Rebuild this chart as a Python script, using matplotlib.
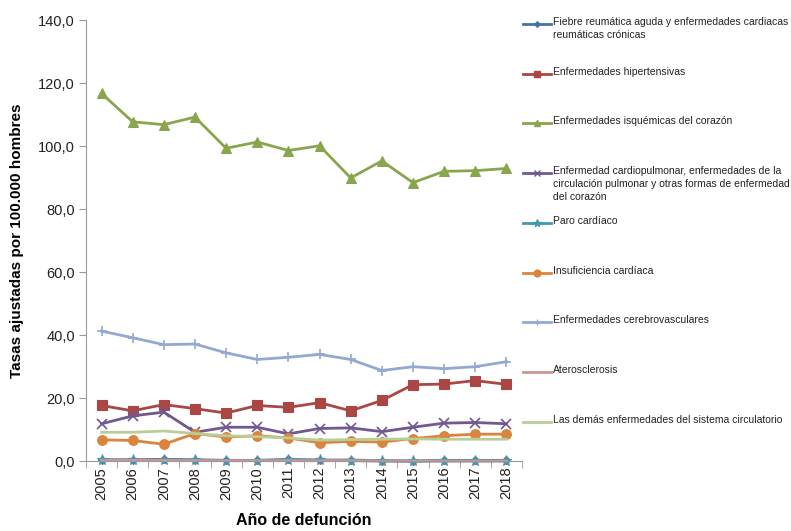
import matplotlib.pyplot as plt
from matplotlib.lines import Line2D

plt.rcParams['font.family'] = ['Liberation Sans', 'DejaVu Sans']

years = list(range(2005, 2019))

fiebre = [0.5, 0.5, 0.6, 0.5, 0.3, 0.3, 0.6, 0.4, 0.4, 0.2, 0.1, 0.3, 0.3, 0.3]
hipertensivas = [17.7, 16.0, 18.0, 16.7, 15.3, 17.7, 17.1, 18.6, 16.0, 19.3, 24.3, 24.5, 25.6, 24.4]
isquemicas = [116.7, 107.7, 106.8, 109.2, 99.3, 101.3, 98.6, 100.1, 89.9, 95.3, 88.4, 92.0, 92.2, 92.9]
cardiopulmonar = [11.9, 14.4, 15.6, 9.2, 10.8, 10.8, 8.7, 10.4, 10.6, 9.4, 10.8, 12.1, 12.3, 11.9]
paro = [0.3, 0.3, 0.3, 0.3, 0.2, 0.2, 0.4, 0.3, 0.2, 0.1, 0.0, 0.1, 0.1, 0.1]
insuficiencia = [6.8, 6.6, 5.4, 8.8, 7.7, 8.1, 7.4, 5.9, 6.3, 6.1, 7.2, 8.1, 8.6, 8.6]
cerebro = [41.3, 39.2, 37.0, 37.2, 34.4, 32.3, 33.0, 33.9, 32.3, 28.8, 30.0, 29.4, 30.0, 31.6]
aterosclerosis = [0.3, 0.3, 0.3, 0.2, 0.2, 0.2, 0.2, 0.2, 0.2, 0.1, 0.1, 0.1, 0.1, 0.1]
demas = [9.2, 9.2, 9.6, 8.8, 8.1, 7.8, 7.4, 6.7, 6.9, 7.0, 7.1, 7.0, 7.0, 7.0]

labels = [
    "Fiebre reumática aguda y enfermedades cardiacas\nreumáticas crónicas",
    "Enfermedades hipertensivas",
    "Enfermedades isquémicas del corazón",
    "Enfermedad cardiopulmonar, enfermedades de la\ncirculación pulmonar y otras formas de enfermedad\ndel corazón",
    "Paro cardíaco",
    "Insuficiencia cardíaca",
    "Enfermedades cerebrovasculares",
    "Aterosclerosis",
    "Las demás enfermedades del sistema circulatorio",
]
series = [fiebre, hipertensivas, isquemicas, cardiopulmonar, paro,
          insuficiencia, cerebro, aterosclerosis, demas]
colors = ["#4572A7", "#AA4643", "#89A54E", "#71588F", "#4198AF",
          "#DB843D", "#93A9CF", "#D19392", "#B9CD96"]
markers = ["D", "s", "^", "x", "*", "o", "+", None, None]
msizes = [4, 7, 7, 7, 8, 7, 7, 0, 0]

fig = plt.figure(figsize=(7.91, 5.31), dpi=100)
ax = fig.add_axes([0.1087, 0.1313, 0.5512, 0.831])

for vals, c, m, ms in zip(series, colors, markers, msizes):
    ax.plot(years, vals, color=c, lw=2, marker=m, markersize=ms,
            markeredgewidth=1.2 if m in ("x", "+") else 0.8, clip_on=False)

ax.set_xlim(2004.5, 2018.5)
ax.set_ylim(0, 140)
ax.set_yticks(range(0, 141, 20))
ax.set_yticklabels([f"{v},0" for v in range(0, 141, 20)], fontsize=10.5, color="#222222")
ax.set_xticks(years)
ax.set_xticklabels([str(y) for y in years], rotation=90, fontsize=10.5, color="#222222")
ax.set_xticks([y + 0.5 for y in [2004] + years], minor=True)
ax.tick_params(axis="x", which="major", length=0, pad=4)
ax.tick_params(axis="x", which="minor", length=5, color="#999999")
ax.tick_params(axis="y", length=5, color="#999999", pad=3)

for s in ["top", "right"]:
    ax.spines[s].set_visible(False)
for s in ["left", "bottom"]:
    ax.spines[s].set_color("#999999")

ax.set_ylabel("Tasas ajustadas por 100.000 hombres", fontsize=11, fontweight="bold", labelpad=10)
ax.set_xlabel("Año de defunción", fontsize=11.5, fontweight="bold", labelpad=10)

# legend, Excel style: one entry every ~50 px down the right side
W, H = 791, 531
for i, (lab, c, m, ms) in enumerate(zip(labels, colors, markers, msizes)):
    ypx = 24 + 49.7 * i
    yf = 1 - ypx / H
    fig.add_artist(Line2D([523 / W, 551 / W], [yf, yf], color=c, lw=2,
                          transform=fig.transFigure))
    if m is not None:
        fig.add_artist(Line2D([537 / W], [yf], color=c, marker=m,
                              markersize=ms * 0.7, markeredgewidth=1,
                              transform=fig.transFigure))
    fig.text(553 / W, 1 - (ypx - 7) / H, lab, fontsize=7.5, va="top", ha="left",
             linespacing=1.35, color="#222222")

fig.savefig("out.png", dpi=100)
